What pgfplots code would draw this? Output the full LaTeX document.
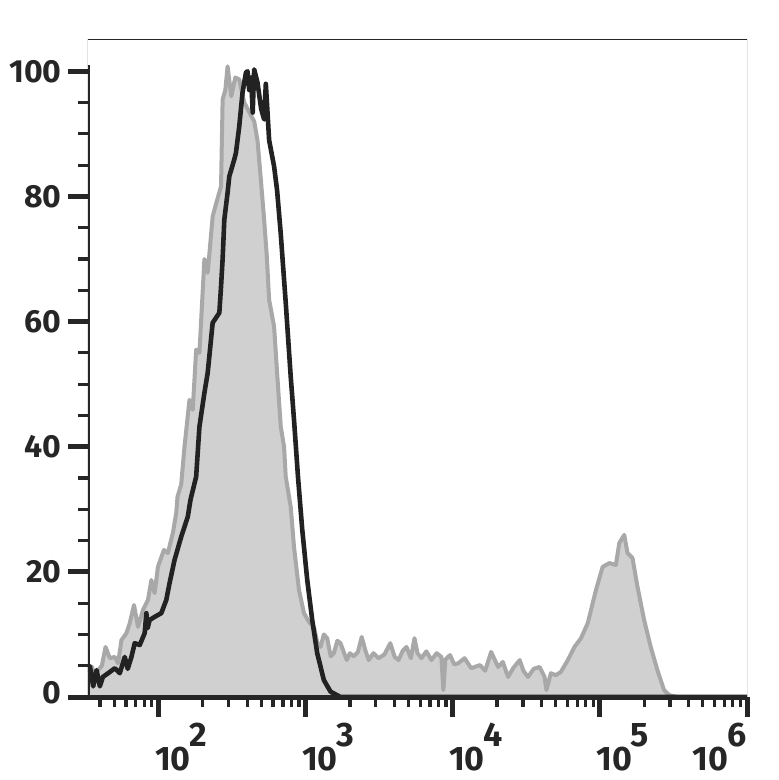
\documentclass[border=0pt]{standalone}
\usepackage{pgfplots}
\usepackage{pgfplotstable}
\pgfplotsset{compat=1.18}
\usepackage{fontspec}
\setmainfont{Fira Sans}
\definecolor{axc}{HTML}{262626}
\definecolor{fillg}{HTML}{D0D0D0}
\definecolor{edgeg}{HTML}{A8A8A8}
\definecolor{blk}{HTML}{222222}

% x = log10(fluorescence), y = % of max
\pgfplotstableread{
lg y
1.5195 3.0
1.5445 4.9
1.5668 3.5
1.5892 4.3
1.6142 5.0
1.6393 8.0
1.6684 6.2
1.7022 6.4
1.7245 5.4
1.7475 9.1
1.7814 10.2
1.8037 11.8
1.8328 14.7
1.8599 11.2
1.8937 13.9
1.9276 15.5
1.9506 18.7
1.9729 16.6
1.9953 20.8
2.0359 23.5
2.0629 23.0
2.0968 26.2
2.1198 29.4
2.1286 32.0
2.1536 34.0
2.1760 40.0
2.2098 47.5
2.2321 45.9
2.2552 55.5
2.2775 55.0
2.3113 70.0
2.3337 67.8
2.3675 76.8
2.3926 79.0
2.4244 81.6
2.4352 95.5
2.4535 97.0
2.4690 100.8
2.4941 96.0
2.5212 99.0
2.5482 98.7
2.5821 95.0
2.6159 93.5
2.6497 92.0
2.6721 89.0
2.6951 82.7
2.7174 76.3
2.7357 70.4
2.7513 63.5
2.7851 59.2
2.8074 51.2
2.8305 43.2
2.8528 40.0
2.8643 35.2
2.8981 30.4
2.9205 24.0
2.9543 17.1
2.9882 13.4
3.0220 12.0
3.0558 11.2
3.0800 8.6
3.1012 8.0
3.1230 10.0
3.1459 9.4
3.1700 6.5
3.1912 7.0
3.2150 9.0
3.2365 8.6
3.2792 5.9
3.3000 7.0
3.3266 6.5
3.3550 7.2
3.3807 9.6
3.4050 7.5
3.4281 5.9
3.4600 7.0
3.4958 6.2
3.5350 6.8
3.5750 8.6
3.6050 6.4
3.6311 5.9
3.6600 7.4
3.6853 8.0
3.7150 6.2
3.7394 9.4
3.7600 7.0
3.7868 6.2
3.8200 7.3
3.8545 5.9
3.8900 7.0
3.9222 6.4
3.9357 1.1
3.9492 6.0
3.9811 6.7
4.0100 5.2
4.0372 5.4
4.0800 6.2
4.1252 4.6
4.1841 5.1
4.2200 4.2
4.2606 7.2
4.3080 4.8
4.3400 5.6
4.3756 3.2
4.4100 4.6
4.4548 5.9
4.4800 4.2
4.5110 3.2
4.5500 4.5
4.5902 4.8
4.6240 3.2
4.6362 1.1
4.6667 3.8
4.7000 3.5
4.7343 4.0
4.7817 5.9
4.8271 8.0
4.8717 9.4
4.9171 11.8
4.9394 13.9
4.9733 17.1
5.0186 20.8
5.0640 21.4
5.1086 21.1
5.1316 24.6
5.1655 25.9
5.1878 23.0
5.2217 22.2
5.2555 17.6
5.3008 12.3
5.3455 8.0
5.3909 4.3
5.4362 1.1
5.4701 0.3
5.5262 0.0
6.0000 0.0
}\graydata

\pgfplotstableread{
lg y
1.5195 4.0
1.5330 4.9
1.5553 1.7
1.5783 4.3
1.6007 1.7
1.6210 3.2
1.6569 3.8
1.7022 4.6
1.7360 3.8
1.7699 6.4
1.7902 4.5
1.8152 6.4
1.8376 8.6
1.8714 8.3
1.9052 10.2
1.9168 13.4
1.9255 11.0
1.9391 12.3
1.9729 12.8
2.0183 13.4
2.0521 15.5
2.0745 18.2
2.1083 21.9
2.1536 25.6
2.1983 28.8
2.2166 31.5
2.2552 35.2
2.2775 43.2
2.3113 48.6
2.3337 51.8
2.3675 59.8
2.4129 61.4
2.4244 65.6
2.4352 70.0
2.4467 76.3
2.4690 80.6
2.4805 83.2
2.5144 85.9
2.5259 87.0
2.5482 91.2
2.5706 96.6
2.5936 99.8
2.6044 100.0
2.6159 97.0
2.6294 99.0
2.6396 93.4
2.6497 100.3
2.6721 98.2
2.6971 94.0
2.7174 92.3
2.7289 98.0
2.7513 89.0
2.7851 84.8
2.8054 81.0
2.8305 74.0
2.8426 70.0
2.8643 63.0
2.8981 51.2
2.9205 44.3
2.9475 35.2
2.9766 26.7
3.0105 18.7
3.0443 12.3
3.0782 7.0
3.1235 2.7
3.1689 0.85
3.2365 0.0
6.0000 0.0
}\blackdata

\newcommand{\dec}[1]{10\kern-0.5pt\raisebox{0.7em}{#1}}
\begin{document}
\begin{tikzpicture}
\path[use as bounding box] (-44pt,-41.5pt) rectangle (345.5pt,348.5pt);
\begin{axis}[
  at={(0,0)}, anchor=south west,
  scale only axis, width=329.5pt, height=328.5pt,
  xmin=1.52, xmax=6, ymin=0, ymax=105,
  axis x line*=bottom, axis y line*=left,
  axis line style={-, line width=2.5pt, color=axc},
  y axis line style={draw=none},
  axis on top,
  clip=true,
  tick align=outside,
  xtick={2,3,4,5,6},
  xticklabels={\dec{2},\dec{3},\dec{4},\dec{5},\llap{\dec{6}\kern-1pt}},
  minor xtick={1.602,1.699,1.778,1.845,1.903,1.954,
    2.301,2.477,2.602,2.699,2.778,2.845,2.903,2.954,
    3.301,3.477,3.602,3.699,3.778,3.845,3.903,3.954,
    4.301,4.477,4.602,4.699,4.778,4.845,4.903,4.954,
    5.301,5.477,5.602,5.699,5.778,5.845,5.903,5.954},
  ytick={0,20,40,60,80,100},
  yticklabels={\raisebox{5pt}{0},20,40,60,80,100},
  minor ytick={5,10,15,25,30,35,45,50,55,65,70,75,85,90,95},
  major tick length=10pt,
  minor tick length=5pt,
  every major tick/.append style={line width=2.5pt, color=axc},
  every minor tick/.append style={line width=1.6pt, color=axc},
  xticklabel style={font=\fontsize{17}{20}\selectfont\bfseries, text=axc, anchor=north west, inner sep=0pt, xshift=-2pt, yshift=-3pt},
  yticklabel style={font=\fontsize{16}{19}\selectfont\bfseries, text=axc, anchor=east, inner sep=0pt, xshift=-3pt},
]
\addplot[draw=edgeg, line width=2pt, line join=round, fill=fillg] table[x=lg, y=y] {\graydata} \closedcycle;
\addplot[draw=blk, line width=2.3pt, line join=round] table[x=lg, y=y] {\blackdata};
\draw[line width=0.5pt, color=axc] (rel axis cs:0,0.96) -- (rel axis cs:0,1) -- (rel axis cs:1,1) -- (rel axis cs:1,0);
\draw[line width=2.5pt, color=axc] (axis cs:1.52,0) -- (axis cs:1.52,101);
\end{axis}
\end{tikzpicture}
\end{document}
